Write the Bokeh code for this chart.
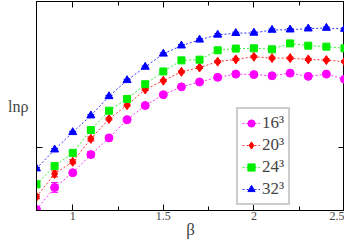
from bokeh.plotting import figure
from bokeh.models import (ColumnDataSource, Whisker, TeeHead, Legend, LegendItem,
                          SingleIntervalTicker, FixedTicker, LinearAxis, Range1d,
                          CustomJSTickFormatter)
from bokeh.embed import file_html
from bokeh.resources import INLINE

beta = [0.8, 0.9, 1.0, 1.1, 1.2, 1.3, 1.4, 1.5, 1.6, 1.7, 1.8, 1.9, 2.0, 2.1, 2.2, 2.3, 2.4, 2.5]

lnrho_16 = [-1.63, -1.405, -1.255, -1.07, -0.90, -0.715, -0.57, -0.46, -0.38, -0.33, -0.283, -0.25,
            -0.255, -0.267, -0.24, -0.273, -0.25, -0.303]
lnrho_20 = [-1.50, -1.267, -1.143, -0.91, -0.707, -0.567, -0.407, -0.317, -0.227, -0.183, -0.123, -0.10,
            -0.073, -0.087, -0.087, -0.10, -0.107, -0.123]
lnrho_24 = [-1.373, -1.187, -1.053, -0.82, -0.623, -0.503, -0.353, -0.223, -0.11, -0.103, -0.007, 0.01,
            0.013, 0.003, 0.063, 0.04, 0.03, 0.013]
lnrho_32 = [-1.213, -1.02, -0.843, -0.673, -0.477, -0.313, -0.177, -0.043, 0.04, 0.10, 0.15, 0.167,
            0.17, 0.20, 0.203, 0.213, 0.22, 0.21]

err_16 = [0.01, 0.05, 0.02, 0.03, 0.01, 0.01, 0.01, 0.01, 0.01, 0.01, 0.01, 0.01, 0.01, 0.01, 0.01, 0.01, 0.01, 0.01]
err_20 = [0.02, 0.03, 0.02, 0.02, 0.01, 0.01, 0.01, 0.01, 0.01, 0.01, 0.01, 0.01, 0.01, 0.01, 0.01, 0.01, 0.01, 0.01]
err_24 = [0.03, 0.02, 0.01, 0.01, 0.01, 0.01, 0.01, 0.01, 0.01, 0.01, 0.01, 0.01, 0.01, 0.01, 0.01, 0.01, 0.01, 0.01]
err_32 = [0.01, 0.01, 0.01, 0.01, 0.01, 0.01, 0.01, 0.01, 0.01, 0.01, 0.01, 0.01, 0.01, 0.01, 0.01, 0.01, 0.01, 0.01]

labels = ["16\u00b3", "20\u00b3", "24\u00b3", "32\u00b3"]
series = [lnrho_16, lnrho_20, lnrho_24, lnrho_32]
errors = [err_16, err_20, err_24, err_32]
colors = ["#ff00ff", "#ff0000", "#00ee00", "#0000ff"]
markers = ["circle", "diamond", "square", "triangle"]
msizes = [8, 9, 7, 8]

x_ticks = [1.0, 1.5, 2.0, 2.5]
x_tick_labels = ["1", "1.5", "2", "2.5"]
y_ticks = [-1.0]

SERIF = "Liberation Serif"

p = figure(width=344, height=241, output_backend="svg", toolbar_location=None,
           x_range=Range1d(0.8, 2.5), y_range=Range1d(-1.64, 0.49),
           min_border_left=36, min_border_right=0, min_border_top=1, min_border_bottom=30)
p.background_fill_color = "white"
p.border_fill_color = "white"
p.outline_line_color = "black"
p.outline_line_width = 1
p.xgrid.visible = False
p.ygrid.visible = False

# bottom axis
xa = p.xaxis[0]
xa.ticker = SingleIntervalTicker(interval=0.5, num_minor_ticks=2)
xa.major_label_overrides = {t: l for t, l in zip(x_ticks, x_tick_labels)}
xa.major_tick_in = 6
xa.major_tick_out = 0
xa.minor_tick_in = 4
xa.minor_tick_out = 0
xa.axis_line_color = "black"
xa.major_label_text_font = SERIF
xa.major_label_text_font_size = "12px"
xa.major_label_standoff = 1
xa.axis_label = "\u03b2"
xa.axis_label_text_font = SERIF
xa.axis_label_text_font_size = "17px"
xa.axis_label_text_font_style = "normal"
xa.axis_label_standoff = -3

# left axis
ya = p.yaxis[0]
ya.ticker = FixedTicker(ticks=y_ticks, minor_ticks=[])
ya.formatter = CustomJSTickFormatter(code="return ''")
ya.major_tick_in = 6
ya.major_tick_out = 0
ya.major_label_standoff = 0
ya.axis_line_color = "black"
ya.axis_label = "ln\u03c1"
ya.axis_label_text_font = SERIF
ya.axis_label_text_font_size = "16px"
ya.axis_label_text_font_style = "normal"
ya.axis_label_standoff = 8
try:
    ya.axis_label_orientation = "horizontal"
except Exception:
    pass

# top axis
ta = LinearAxis(ticker=SingleIntervalTicker(interval=0.5, num_minor_ticks=2),
                formatter=CustomJSTickFormatter(code="return ''"),
                major_tick_in=6, major_tick_out=0, minor_tick_in=4, minor_tick_out=0,
                major_label_standoff=0)
p.add_layout(ta, "above")
# right axis
ra = LinearAxis(ticker=FixedTicker(ticks=y_ticks, minor_ticks=[]),
                formatter=CustomJSTickFormatter(code="return ''"),
                major_tick_in=6, major_tick_out=0, major_label_standoff=0)
p.add_layout(ra, "right")

items = []
for lab, ys, es, c, m, s in zip(labels, series, errors, colors, markers, msizes):
    src = ColumnDataSource(dict(x=beta, y=ys,
                                up=[a + b for a, b in zip(ys, es)],
                                lo=[a - b for a, b in zip(ys, es)]))
    ln = p.line("x", "y", source=src, line_color=c, line_width=1, line_dash="2 2", line_alpha=0.8)
    w = Whisker(base="x", upper="up", lower="lo", source=src, line_color=c, line_width=1,
                upper_head=TeeHead(size=7, line_color=c), lower_head=TeeHead(size=7, line_color=c))
    p.add_layout(w)
    sc = p.scatter("x", "y", source=src, marker=m, size=s, fill_color=c, line_color=c)
    items.append(LegendItem(label=lab, renderers=[ln, sc]))

legend = Legend(items=items, location=(200, 5),
                label_text_font=SERIF, label_text_font_size="17px",
                label_height=20, glyph_height=20, glyph_width=18, label_standoff=2,
                spacing=2, padding=4, margin=0,
                border_line_color="#999999", border_line_width=2,
                background_fill_color="white", background_fill_alpha=1)
p.add_layout(legend, "center")

open("out.html", "w").write(file_html(p, INLINE))
